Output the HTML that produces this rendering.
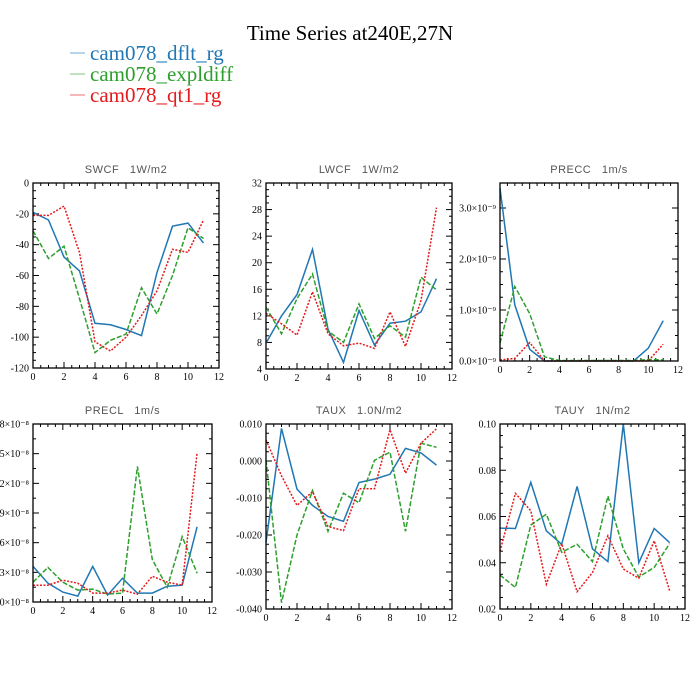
<!DOCTYPE html>
<html><head><meta charset="utf-8"><style>
html,body{margin:0;padding:0;background:#fff;}
svg{display:block;}
.tick{font-family:"Liberation Serif",serif;font-size:10px;fill:#000;}
.ptitle{font-family:"Liberation Sans",sans-serif;font-size:11px;fill:#555;letter-spacing:0.5px;white-space:pre;}
</style></head><body>
<svg id="chart" width="700" height="700" viewBox="0 0 700 700">
<text x="350" y="40" text-anchor="middle" font-family="Liberation Serif,serif" font-size="21">Time Series at240E,27N</text>
<g font-family="Liberation Serif,serif" font-size="21">
<g><line x1="70" y1="53" x2="85" y2="53" stroke="#6fa8d6" stroke-width="1"/><text x="90" y="60" fill="#1f77b4">cam078_dflt_rg</text></g>
<g><line x1="70" y1="74" x2="85" y2="74" stroke="#7cc47c" stroke-width="1"/><text x="90" y="81" fill="#2ca02c">cam078_expldiff</text></g>
<g><line x1="70" y1="95" x2="85" y2="95" stroke="#ee7070" stroke-width="1"/><text x="90" y="102" fill="#e41a1c">cam078_qt1_rg</text></g>
</g>
<g id="panels"></g>
</svg>
<script>
const months = [0,1,2,3,4,5,6,7,8,9,10,11];
const xTicks = [0,2,4,6,8,10,12];
const swcfDflt = [-19,-24,-48,-57,-91,-92,-95,-99,-58,-28,-26,-39];
const swcfExpl = [-31,-49,-41,-75,-110,-102,-98,-68,-85,-60,-29,-36];
const swcfQt1 = [-21,-21,-15,-45,-103,-109,-100,-86,-70,-43,-45,-24];
const swcfTicks = [0,-20,-40,-60,-80,-100,-120];
const lwcfDflt = [7.9,12,15.2,22,10,5,12.8,7.6,10.9,11.2,12.6,17.6];
const lwcfExpl = [13.3,9.3,14.6,18.3,9.7,8,13.8,8.6,10.5,8.8,17.8,15.9];
const lwcfQt1 = [12.4,10.8,9.1,15.6,9.3,7.5,7.9,7.1,12.6,7.4,14.3,28.3];
const lwcfTicks = [4,8,12,16,20,24,28,32];
const preccDflt = [3.39,1.1,0.23,0,0,0,0,0,0,0,0.25,0.79];
const preccExpl = [0.35,1.46,0.93,0.08,0.01,0.01,0.01,0.01,0.01,0.01,0.03,0.02];
const preccQt1 = [0.02,0.05,0.36,0,0,0,0,0,0,0,0,0.33];
const preccTicks = [0,1,2,3];
const preccTickLabels = ["0.0×10⁻⁹","1.0×10⁻⁹","2.0×10⁻⁹","3.0×10⁻⁹"];
const preclDflt = [0.36,0.19,0.10,0.06,0.36,0.07,0.24,0.09,0.09,0.16,0.17,0.76];
const preclExpl = [0.20,0.35,0.20,0.12,0.13,0.08,0.09,1.37,0.43,0.15,0.66,0.29];
const preclQt1 = [0.17,0.17,0.22,0.19,0.09,0.09,0.12,0.08,0.26,0.20,0.17,1.51];
const preclTicks = [0,0.3,0.6,0.9,1.2,1.5,1.8];
const preclTickLabels = ["0.0×10⁻⁸","0.3×10⁻⁸","0.6×10⁻⁸","0.9×10⁻⁸","1.2×10⁻⁸","1.5×10⁻⁸","1.8×10⁻⁸"];
const tauxDflt = [-0.022,0.0088,-0.0076,-0.012,-0.015,-0.0163,-0.0058,-0.0049,-0.0036,0.0034,0.0022,-0.0011];
const tauxExpl = [0.0003,-0.0383,-0.020,-0.008,-0.019,-0.0087,-0.0113,0.0002,0.0024,-0.019,0.0048,0.0037];
const tauxQt1 = [0.0057,-0.004,-0.012,-0.0083,-0.0177,-0.0188,-0.0075,-0.0075,0.0085,-0.0033,0.0048,0.0087];
const tauxTicks = [-0.04,-0.03,-0.02,-0.01,0,0.01];
const tauxTickLabels = ["-0.040","-0.030","-0.020","-0.010","0.000","0.010"];
const tauyDflt = [0.055,0.0548,0.0748,0.0538,0.048,0.073,0.046,0.0405,0.1,0.040,0.0548,0.0487];
const tauyExpl = [0.0347,0.0293,0.0563,0.061,0.0445,0.048,0.0405,0.0688,0.046,0.0338,0.038,0.0483];
const tauyQt1 = [0.045,0.070,0.0625,0.0307,0.0483,0.0275,0.0358,0.0517,0.0373,0.0333,0.0495,0.028];
const tauyTicks = [0.02,0.04,0.06,0.08,0.10];
const tauyTickLabels = ["0.02","0.04","0.06","0.08","0.10"];

const NS = "http://www.w3.org/2000/svg";
const root = document.getElementById('panels');
function mk(tag, attrs, parent){const e=document.createElementNS(NS,tag);for(const k in attrs)e.setAttribute(k,attrs[k]);parent.appendChild(e);return e;}

const styles = [
 {c:"#1f77b4",d:"none",n:"dflt"},
 {c:"#2ca02c",d:"5,2",n:"expldiff"},
 {c:"#e41a1c",d:"2,1.5",n:"qt1"}
];

function panel(cfg){
  const g = mk('g',{},root);
  
  
  const {x0,x1,y0,y1,ymin,ymax} = cfg;
  const sx = v => x0 + (v-0)/12*(x1-x0);
  const sy = v => y1 - (v-ymin)/(ymax-ymin)*(y1-y0);
  const t = mk('text',{x:(x0+x1)/2,y:y0-10,'text-anchor':'middle','class':'ptitle'},g);
  t.textContent = cfg.title;
  
  
  for(let v=0; v<=12.001; v+=0.5){
    const major = Math.abs(v%2)<0.01;
    const L = major?6:3;
    mk('line',{x1:sx(v),x2:sx(v),y1:y1,y2:y1-L,stroke:'#000','stroke-width':1},g);
    mk('line',{x1:sx(v),x2:sx(v),y1:y0,y2:y0+L,stroke:'#000','stroke-width':1},g);
  }
  xTicks.forEach(v=>{
    const tx = mk('text',{x:sx(v),y:y1+12,'text-anchor':'middle','class':'tick'},g);
    tx.textContent = v;
    
    
  });
  const tk = cfg.ticks;
  for(let i=0;i<tk.length;i++){
    const yy = sy(tk[i]);
    mk('line',{x1:x0,x2:x0+6,y1:yy,y2:yy,stroke:'#000','stroke-width':1},g);
    mk('line',{x1:x1,x2:x1-6,y1:yy,y2:yy,stroke:'#000','stroke-width':1},g);
    if(i<tk.length-1){
      for(let k=1;k<cfg.minor;k++){
        const ym = sy(tk[i]+(tk[i+1]-tk[i])*k/cfg.minor);
        mk('line',{x1:x0,x2:x0+3,y1:ym,y2:ym,stroke:'#000','stroke-width':1},g);
        mk('line',{x1:x1,x2:x1-3,y1:ym,y2:ym,stroke:'#000','stroke-width':1},g);
      }
    }
    const ty = mk('text',{x:x0-4,y:yy+3.5,'text-anchor':'end','class':'tick','font-size':cfg.lblSize||10},g);
    ty.textContent = cfg.labels ? cfg.labels[i] : tk[i];
    
    
  }
  cfg.series.forEach((s,j)=>{
    const pts = months.map((m,i)=>sx(m).toFixed(1)+','+sy(s[i]).toFixed(1)).join(' ');
    const pl = mk('polyline',{points:pts,fill:'none',stroke:styles[j].c,'stroke-width':1.5,'stroke-dasharray':styles[j].d},g);
    
    
  });
  const fr = mk('rect',{x:x0,y:y0,width:x1-x0,height:y1-y0,fill:'none',stroke:'#000','stroke-width':1.3},g);
  
  
}

panel({name:'swcf',title:'SWCF   1W/m2',x0:33,x1:219,y0:183,y1:368,ymin:-120,ymax:0,ticks:swcfTicks.slice().reverse(),minor:4,series:[swcfDflt,swcfExpl,swcfQt1]});
panel({name:'lwcf',title:'LWCF   1W/m2',x0:266,x1:452,y0:183,y1:369,ymin:4,ymax:32,ticks:lwcfTicks,minor:4,series:[lwcfDflt,lwcfExpl,lwcfQt1]});
panel({name:'precc',title:'PRECC   1m/s',x0:500,x1:678,y0:183,y1:361,ymin:0,ymax:3.49,ticks:preccTicks,labels:preccTickLabels,minor:4,lblSize:8,series:[preccDflt,preccExpl,preccQt1]});
panel({name:'precl',title:'PRECL   1m/s',x0:33,x1:212,y0:424,y1:602,ymin:0,ymax:1.8,ticks:preclTicks,labels:preclTickLabels,minor:2,lblSize:8,series:[preclDflt,preclExpl,preclQt1]});
panel({name:'taux',title:'TAUX   1.0N/m2',x0:266,x1:452,y0:424,y1:609,ymin:-0.04,ymax:0.01,ticks:tauxTicks,labels:tauxTickLabels,minor:4,lblSize:9,series:[tauxDflt,tauxExpl,tauxQt1]});
panel({name:'tauy',title:'TAUY   1N/m2',x0:500,x1:685,y0:424,y1:609,ymin:0.02,ymax:0.10,ticks:tauyTicks,labels:tauyTickLabels,minor:4,lblSize:9,series:[tauyDflt,tauyExpl,tauyQt1]});
</script>
</body></html>
